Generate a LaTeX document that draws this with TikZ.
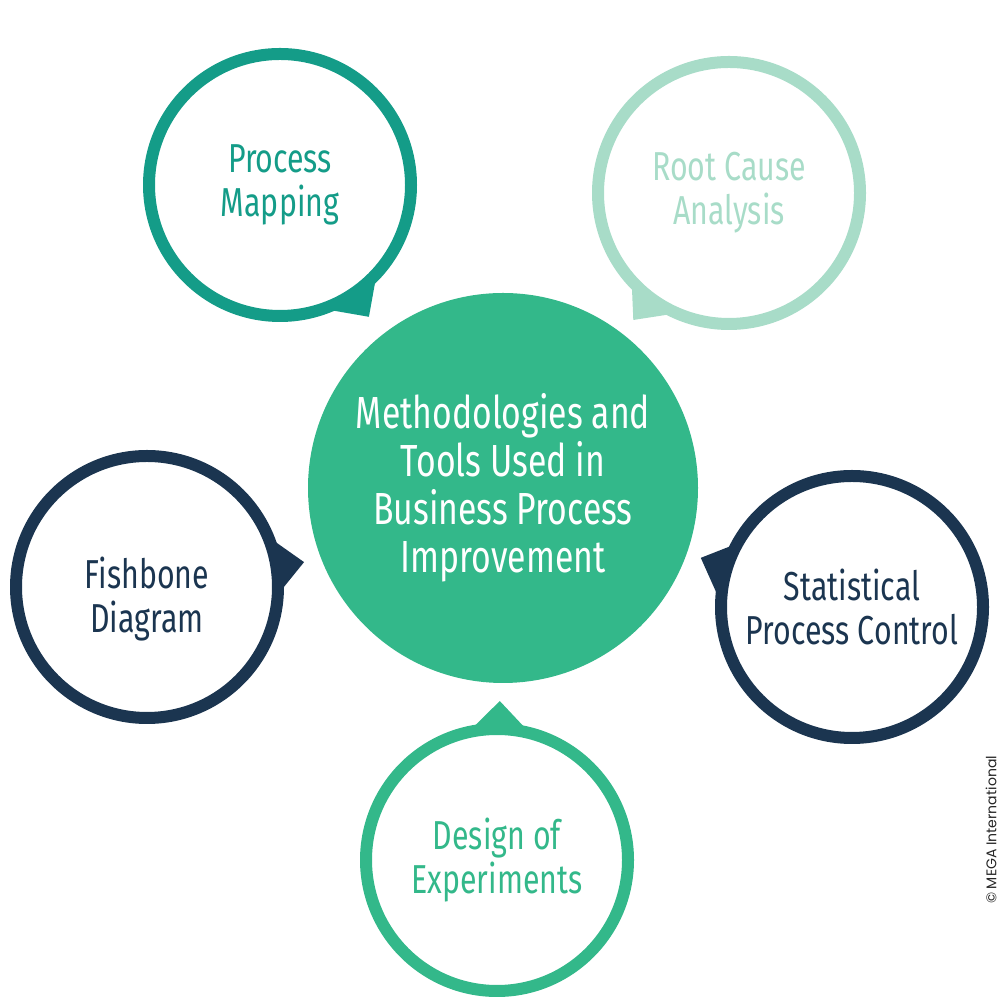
\documentclass[tikz,border=0pt]{standalone}
\usepackage{fontspec}
\setmainfont{Fira Sans}[FakeStretch=0.75]
\newfontfamily\creditfont{Poppins}
\usepackage{xcolor}
\definecolor{megateal}{HTML}{149C88}
\definecolor{megamint}{HTML}{A8DCC8}
\definecolor{meganavy}{HTML}{1B3550}
\definecolor{megagreen}{HTML}{33B88A}
\usepackage{tikz}
\usetikzlibrary{calc}

\begin{document}
\begin{tikzpicture}[x=0.1mm,y=0.1mm,
  ring/.style={circle,draw=#1,line width=1.2mm,minimum size=26.2mm,inner sep=0pt,
    text=#1,align=center,font=\fontsize{11.5}{12.5}\selectfont},
  hub/.style={circle,fill=megagreen,minimum size=39mm,inner sep=0pt,text=white,
    align=center,font=\fontsize{12.8}{13.7}\selectfont}]
\useasboundingbox (0,0) rectangle (1001,1001);
% central topic
\node[hub] (hub) at (503,513) {Methodologies and\\Tools Used in\\Business Process\\Improvement};
% surrounding bubbles
\node[ring=megateal] (pm) at (280,816) {Process\\Mapping};
\node[ring=megamint] (rca) at (729,808) {Root Cause\\Analysis};
\node[ring=meganavy] (fb) at (147,414) {};
\node[text=meganavy,align=center,font=\fontsize{11.5}{12.5}\selectfont] (fbtext)
  at ($(fb)+(0,-12)$) {Fishbone\\Diagram};
\node[ring=meganavy] (spc) at (852,394) {Statistical\\Process Control};
\node[ring=megagreen] (doe) at (497,141) {Design of\\Experiments};
% pointer tabs towards the hub
\foreach \n/\c/\a/\t/\b in {pm/megateal/-68/-56/-45,rca/megamint/-136/-127/-116,
    fb/meganavy/-1/9/20,spc/meganavy/153/162/175,doe/megagreen/78/89/100}
  \fill[\c] ($(\n)+(\a:135)$) -- ($(\n)+(\t:159)$) -- ($(\n)+(\b:135)$) -- cycle;
% credit
\node[rotate=90,text=black!85,font=\creditfont\fontsize{4}{4}\selectfont] (credit)
  at (991,171) {© MEGA International};
\end{tikzpicture}
\end{document}
